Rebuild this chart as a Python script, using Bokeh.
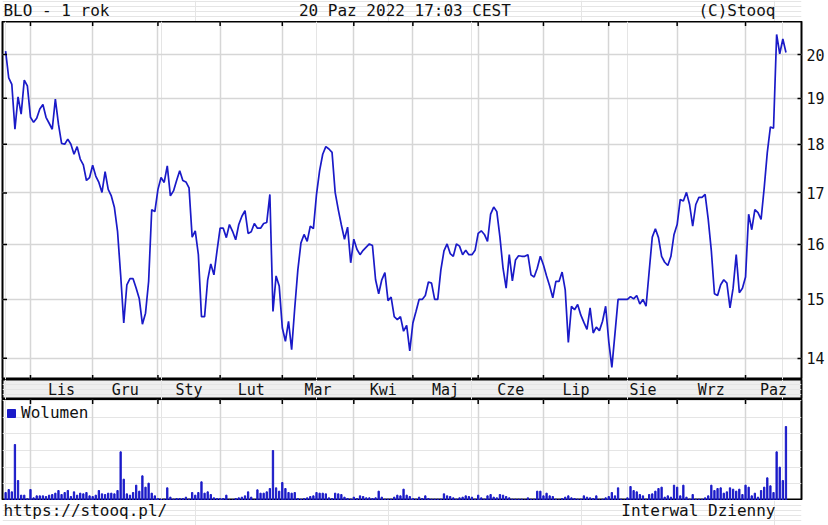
import math
from bokeh.plotting import figure
from bokeh.models import (Range1d, FixedTicker, LinearAxis, Grid, BasicTickFormatter)
from bokeh.layouts import column
from bokeh.embed import file_html
from bokeh.resources import INLINE
from bokeh.core.properties import value

# ---------------- data ----------------
price = [
    20.08, 19.46, 19.31, 18.32, 19.03, 18.65, 19.41, 19.28, 18.58, 18.47,
    18.56, 18.76, 18.86, 18.58, 18.45, 18.32, 18.98, 18.43, 18.02, 18.00,
    18.11, 18.00, 17.79, 17.95, 17.69, 17.57, 17.25, 17.31, 17.56, 17.34,
    17.21, 17.01, 17.43, 17.07, 16.94, 16.71, 16.25, 15.44, 14.59, 15.26,
    15.37, 15.37, 15.20, 15.01, 14.57, 14.76, 15.32, 16.67, 16.63, 17.07,
    17.31, 17.21, 17.55, 16.94, 17.04, 17.25, 17.45, 17.25, 17.22, 17.10,
    16.14, 16.26, 15.81, 14.70, 14.70, 15.35, 15.64, 15.44, 15.88, 16.31,
    16.31, 16.13, 16.38, 16.25, 16.09, 16.38, 16.54, 16.65, 16.21, 16.24,
    16.40, 16.31, 16.31, 16.40, 16.42, 16.97, 14.79, 15.42, 15.24, 14.51,
    14.28, 14.62, 14.14, 14.85, 15.53, 16.03, 16.19, 16.06, 16.35, 16.30,
    16.97, 17.45, 17.79, 17.95, 17.90, 17.83, 17.01, 16.67, 16.37, 16.10,
    16.33, 15.66, 16.10, 15.91, 15.81, 15.89, 15.95, 16.01, 15.98, 15.35,
    15.10, 15.35, 15.48, 14.98, 15.04, 14.70, 14.65, 14.70, 14.45, 14.55,
    14.12, 14.59, 14.79, 15.00, 15.00, 15.07, 15.31, 15.29, 15.00, 15.00,
    15.53, 15.88, 16.01, 15.83, 15.78, 16.01, 15.97, 15.81, 15.89, 15.81,
    15.81, 15.89, 16.21, 16.26, 16.19, 16.06, 16.58, 16.72, 16.63, 16.14,
    15.56, 15.20, 15.81, 15.33, 15.71, 15.79, 15.78, 15.78, 15.81, 15.44,
    15.40, 15.56, 15.78, 15.62, 15.42, 15.24, 15.03, 15.32, 15.32, 15.49,
    15.17, 14.26, 14.88, 14.82, 14.91, 14.73, 14.60, 14.48, 14.85, 14.42,
    14.52, 14.46, 14.62, 14.88, 14.28, 13.85, 14.41, 15.00, 15.00, 15.00,
    15.00, 15.05, 15.01, 15.07, 14.92, 15.00, 14.88, 15.50, 16.14, 16.30,
    16.13, 15.78, 15.67, 15.61, 15.78, 16.19, 16.38, 16.87, 16.84, 17.01,
    16.77, 16.35, 16.77, 16.91, 16.91, 16.97, 16.48, 15.88, 15.10, 15.07,
    15.26, 15.35, 15.29, 14.85, 15.20, 15.81, 15.12, 15.20, 15.40, 16.58,
    16.28, 16.67, 16.61, 16.48, 17.10, 17.83, 18.37, 18.34, 20.48, 20.02,
    20.37, 20.05,
]

volume = [
    24, 33, 26, 168, 60, 16, 16, 5, 33, 8,
    14, 14, 14, 12, 16, 18, 22, 30, 18, 24,
    30, 12, 26, 16, 22, 20, 24, 14, 12, 16,
    30, 20, 18, 22, 22, 20, 30, 146, 64, 20,
    16, 24, 46, 28, 74, 40, 52, 22, 14, 6,
    4, 4, 38, 10, 4, 6, 6, 6, 10, 4,
    24, 16, 24, 56, 22, 26, 18, 8, 6, 6,
    6, 16, 2, 2, 6, 8, 10, 14, 26, 10,
    2, 32, 22, 22, 26, 36, 150, 38, 28, 54,
    36, 24, 22, 24, 6, 4, 6, 8, 12, 14,
    24, 22, 22, 20, 8, 6, 22, 20, 18, 10,
    6, 4, 10, 6, 14, 12, 8, 8, 6, 8,
    28, 10, 4, 4, 4, 10, 16, 14, 34, 16,
    12, 6, 4, 10, 6, 14, 6, 4, 4, 4,
    4, 20, 14, 12, 8, 4, 8, 10, 14, 12,
    10, 4, 16, 8, 4, 14, 18, 10, 8, 18,
    16, 12, 8, 4, 4, 4, 4, 2, 8, 4,
    4, 28, 28, 14, 22, 14, 12, 4, 2, 6,
    10, 14, 8, 6, 4, 4, 14, 10, 8, 6,
    14, 2, 4, 8, 12, 24, 14, 38, 4, 2,
    8, 42, 30, 26, 18, 14, 4, 18, 20, 28,
    36, 40, 10, 14, 10, 46, 40, 14, 46, 10,
    4, 18, 4, 4, 4, 8, 14, 46, 30, 36,
    38, 22, 26, 38, 34, 28, 34, 18, 46, 40,
    14, 22, 10, 30, 40, 68, 44, 24, 146, 100,
    60, 222,
]

month_starts = [8, 28, 49, 69, 89, 112, 131, 152, 173, 194, 216, 238]
month_labels = ["Lis", "Gru", "Sty", "Lut", "Mar", "Kwi", "Maj", "Cze",
                "Lip", "Sie", "Wrz", "Paz"]
price_ticks = [14, 15, 16, 17, 18, 19, 20]

session = list(range(len(price)))

# ---------------- style ----------------
FONT = "DejaVu Sans Mono"
BLUE = "#1a1ac8"
GRID = "#d6d6d6"
INK = "#111111"
W = 828
X0, X1 = -1, 256
P0, P1 = 13.653, 20.793
V1 = 303
XR = Range1d(X0, X1)


def text_strip(h):
    f = figure(width=W, height=h, x_range=Range1d(0, W), y_range=Range1d(0, h),
               output_backend="svg", toolbar_location=None, min_border=0,
               x_axis_location=None, y_axis_location=None, title=None)
    f.outline_line_color = None
    f.background_fill_color = "white"
    f.border_fill_color = "white"
    return f


def inner_ticks(fig, xs, ys, vertical):
    # short tick marks pointing into the panel from its border
    fig.scatter(x=xs, y=ys, marker="dash", size=9,
                angle=(math.pi / 2 if vertical else 0.0),
                line_color="black", line_width=1.5)


# ---------------- header ----------------
hdr = text_strip(21)
kw = dict(text_font=value(FONT), text_font_size="16px", text_color=INK,
          text_baseline="middle")
hdr.text(x=[1], y=[11.5], text=["BLO - 1 rok"], text_align="left", **kw)
hdr.text(x=[417], y=[11.5], text=["20 Paz 2022 17:03 CEST"], text_align="center", **kw)
hdr.text(x=[801], y=[11.5], text=["(C)Stooq"], text_align="right", **kw)

# ---------------- price panel ----------------
p = figure(width=W, height=358, x_range=XR, y_range=Range1d(P0, P1),
           y_axis_type="log", output_backend="svg", toolbar_location=None,
           x_axis_location=None, y_axis_location=None, title=None,
           min_border_left=2, min_border_right=27, min_border_top=0,
           min_border_bottom=0)
p.outline_line_color = "black"
p.outline_line_width = 2
p.add_layout(Grid(dimension=0, ticker=FixedTicker(ticks=month_starts),
                  grid_line_color=GRID, grid_line_width=1.5))
p.add_layout(Grid(dimension=1, ticker=FixedTicker(ticks=price_ticks),
                  grid_line_color=GRID, grid_line_width=1.5))

yr = LinearAxis(ticker=FixedTicker(ticks=price_ticks), formatter=BasicTickFormatter())
yr.major_label_text_font = FONT
yr.major_label_text_font_size = "15px"
yr.major_label_text_color = INK
yr.major_label_standoff = 5
yr.major_tick_in = 4
yr.major_tick_out = 0
yr.major_tick_line_width = 1.5
yr.minor_tick_line_color = None
yr.axis_line_color = None
p.add_layout(yr, "right")

p.line(session, price, line_color=BLUE, line_width=1.7)

inner_ticks(p, month_starts, [P1] * len(month_starts), True)
inner_ticks(p, month_starts, [P0] * len(month_starts), True)
inner_ticks(p, [X0] * len(price_ticks), price_ticks, False)

# ---------------- month band ----------------
edges = month_starts + [X1]
mids = [(edges[k] + edges[k + 1]) / 2 for k in range(len(month_starts))]
band = figure(width=W, height=20, x_range=XR, y_range=Range1d(0, 20),
              output_backend="svg", toolbar_location=None,
              x_axis_location=None, y_axis_location=None, title=None,
              min_border_left=2, min_border_right=27, min_border_top=0,
              min_border_bottom=0)
band.background_fill_color = "#efefef"
band.outline_line_color = "black"
band.outline_line_width = 2
band.text(x=mids, y=[10] * len(mids), text=month_labels, text_align="center",
          text_baseline="middle", text_font=value(FONT),
          text_font_size="15px", text_color=INK)

# ---------------- volume panel ----------------
v = figure(width=W, height=101, x_range=XR, y_range=Range1d(0, V1),
           output_backend="svg", toolbar_location=None,
           x_axis_location=None, y_axis_location=None, title=None,
           min_border_left=2, min_border_right=27, min_border_top=0,
           min_border_bottom=0)
v.outline_line_color = "black"
v.outline_line_width = 2
v.add_layout(Grid(dimension=0, ticker=FixedTicker(ticks=month_starts),
                  grid_line_color=GRID, grid_line_width=1.5))
v.vbar(x=session, top=volume, width=0.42, fill_color=BLUE, line_color=BLUE,
       legend_label="Wolumen")
inner_ticks(v, month_starts, [V1] * len(month_starts), True)
v.legend.location = "top_left"
v.legend.margin = 4
v.legend.padding = 4
v.legend.glyph_width = 10
v.legend.glyph_height = 10
v.legend.label_standoff = 5
v.legend.label_text_font = FONT
v.legend.label_text_font_size = "16px"
v.legend.label_text_color = INK
v.legend.border_line_color = None
v.legend.background_fill_alpha = 0

# ---------------- footer ----------------
ftr = text_strip(25)
ftr.text(x=[1], y=[15], text=["https://stooq.pl/"], text_align="left", **kw)
ftr.text(x=[801], y=[15], text=["Interwal Dzienny"], text_align="right", **kw)

layout = column(hdr, p, band, v, ftr, spacing=0)
open("out.html", "w").write(file_html(layout, INLINE))
